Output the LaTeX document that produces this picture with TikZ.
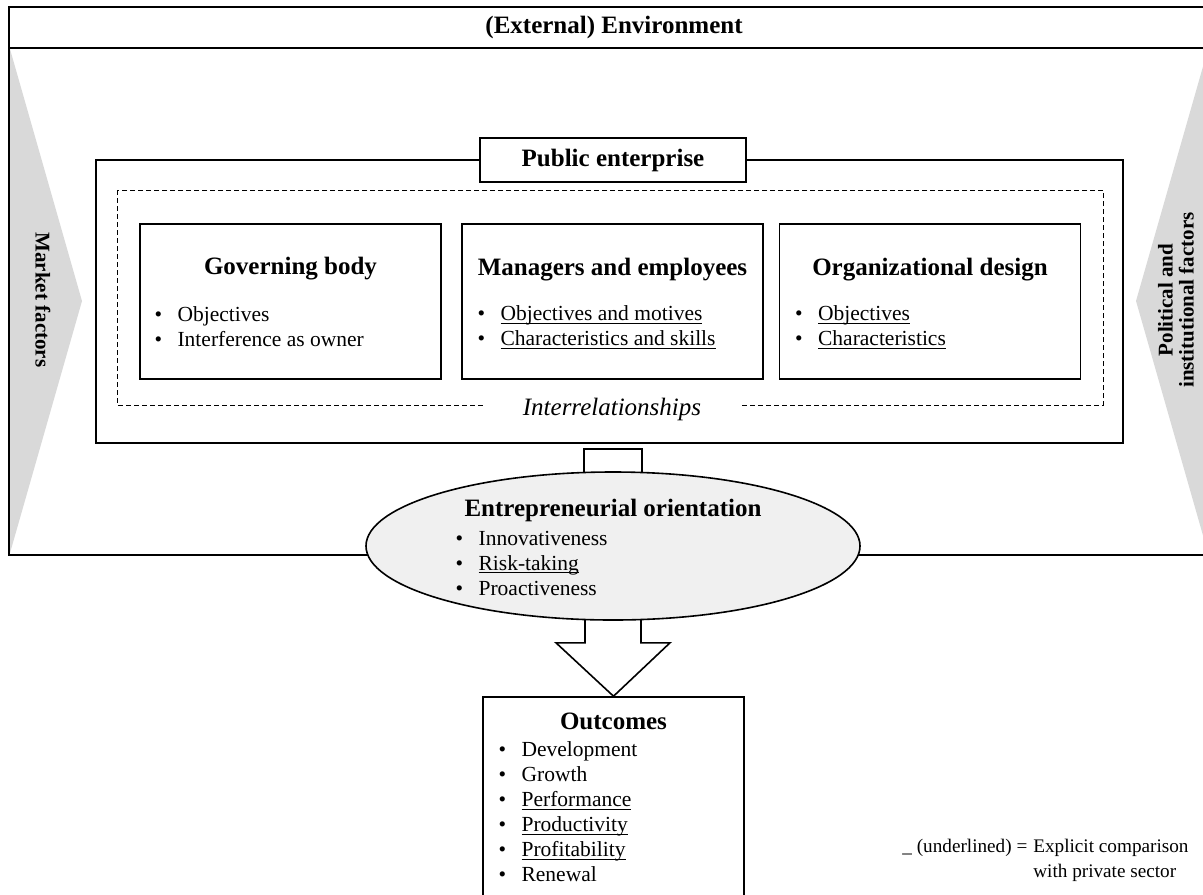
\documentclass[tikz,border=0pt]{standalone}
\usepackage{fontspec}
\setmainfont{Liberation Serif}
\usetikzlibrary{positioning,shapes.geometric,calc,backgrounds}

\newcommand{\hdfont}{\fontsize{12.5}{15}\selectfont\bfseries}
\newcommand{\txfont}{\fontsize{10.75}{12.5}\selectfont}
\newcommand{\sdfont}{\fontsize{10.5}{10.5}\selectfont\bfseries}
\newcommand{\itm}[1]{\makebox[11.5pt][l]{\textbullet}#1}
\newcommand{\ulx}[1]{\setbox0\hbox{#1}\rlap{\rule[-1.5pt]{\wd0}{0.45pt}}\box0}

\tikzset{
  frame/.style={draw, line width=0.8pt},
  unitbox/.style={frame, fill=white, minimum width=150.5pt, minimum height=77.5pt, inner sep=0pt},
  heading/.style={font=\hdfont, inner sep=0pt},
  items/.style={font=\txfont, align=left, inner sep=0pt, anchor=west},
  sidelabel/.style={font=\sdfont, align=center, inner sep=0pt},
  factor/.style={fill=black!15, draw=none},
  blockarrow/.style={frame, fill=white, line join=miter},
}

\begin{document}
\begin{tikzpicture}[x=0.5pt,y=-0.5pt]
\useasboundingbox (0,0) rectangle (1203,894);

% environment
\draw[frame] (9,7) rectangle (1208,555);
\draw[frame] (9,48) -- (1208,48);
\node[heading] (env) at (614,27) {(External) Environment};

\fill[factor] (10,49) -- (82,301) -- (10,553) -- cycle;
\fill[factor] (1208,49) -- (1136,301) -- (1208,553) -- cycle;
\node[sidelabel, rotate=-90] (mkt) at (43,300) {Market factors};
\node[sidelabel, rotate=90] (pol) at (1176,300) {Political and\\institutional factors};

% public enterprise
\node[frame, minimum width=513.5pt, minimum height=141.5pt, inner sep=0pt] (pe) at (609.5,301.5) {};
\draw[line width=0.5pt, dash pattern=on 2.5pt off 1.5pt] (117,190) rectangle (1103,405);
\node[frame, fill=white, heading, minimum width=133pt, minimum height=22pt] (pelabel) at (613,160) {Public enterprise};
\node[fill=white, font=\fontsize{12.5}{15}\selectfont\itshape, inner xsep=19pt, inner ysep=2pt] (inter) at (612,409) {Interrelationships};

\node[unitbox] (gov) at (290.5,301.5) {};
\node[unitbox] (mgr) at (612.5,301.5) {};
\node[unitbox] (org) at (930,301.5) {};

\node[heading] (govhd) at ($(gov.north)+(0,45)$) {Governing body};
\node[heading] (mgrhd) at ($(mgr.north)+(0,46)$) {Managers and employees};
\node[heading] (orghd) at ($(org.north)+(0,46)$) {Organizational design};

\node[items] (govlist) at ($(gov.west)+(15,25)$) {\itm{Objectives}\\\itm{Interference as owner}};
\node[items] (mgrlist) at ($(mgr.west)+(16,26)$) {\itm{\ulx{Objectives and motives}}\\\itm{\ulx{Characteristics and skills}}};
\node[items] (orglist) at ($(org.west)+(16,26)$) {\itm{\ulx{Objectives}}\\\itm{\ulx{Characteristics}}};

% orientation and outcomes
\node[frame, fill=white, minimum width=130.5pt, minimum height=110pt, inner sep=0pt] (out) at (613.5,807) {};
\node[ellipse, frame, fill=black!6, minimum width=247pt, minimum height=74pt, inner sep=0pt] (eo) at (613,546) {};

\begin{pgfonlayer}{background}
\draw[blockarrow] ($(eo.north)+(-29,-22)$) rectangle ($(eo.north)+(29,20)$);
\draw[blockarrow] ($(eo.south)+(-28,-10)$) -- ($(eo.south)+(-28,22)$) -- ($(eo.south)+(-57,22)$)
  -- (out.north) -- ($(eo.south)+(57,22)$) -- ($(eo.south)+(28,22)$) -- ($(eo.south)+(28,-10)$) -- cycle;
\end{pgfonlayer}

\node[heading] (eohd) at ($(eo.center)+(0,-36)$) {Entrepreneurial orientation};
\node[items] (eolist) at ($(eo.west)+(90,17)$) {\itm{Innovativeness}\\\itm{\ulx{Risk-taking}}\\\itm{Proactiveness}};

\node[heading] (outhd) at ($(out.north)+(0,25)$) {Outcomes};
\node[items] (outlist) at ($(out.north west)+(16,115.5)$) {\itm{Development}\\\itm{Growth}\\\itm{\ulx{Performance}}\\\itm{\ulx{Productivity}}\\\itm{\ulx{Profitability}}\\\itm{Renewal}};

% legend
\node[font=\fontsize{9.6}{12.5}\selectfont, inner sep=0pt, anchor=west] (legend) at (902,860)
  {\begin{tabular}{@{}r@{\hspace{3pt}}l@{}}\_ (underlined) = & Explicit comparison\\ & with private sector\end{tabular}};
\end{tikzpicture}
\end{document}
